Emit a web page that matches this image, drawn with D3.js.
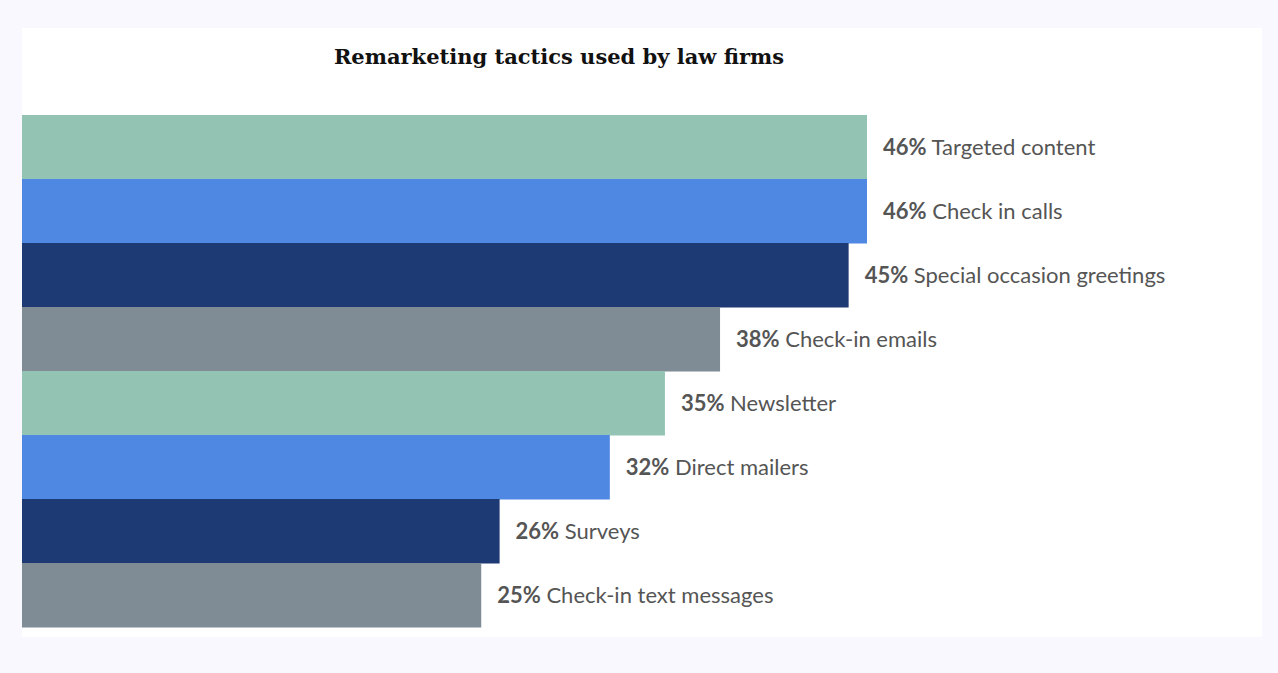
<!DOCTYPE html>
<html><head><meta charset="utf-8">
<script src="https://cdn.jsdelivr.net/npm/d3@7"></script>
<style>body{margin:0;background:#f8f8fe;}</style>
</head><body>
<svg id="c" width="1278" height="673"></svg>
<script>
const categories = ["Targeted content","Check in calls","Special occasion greetings","Check-in emails","Newsletter","Direct mailers","Surveys","Check-in text messages"];
const values = [46,46,45,38,35,32,26,25];
const colors = ["#93c4b3","#4f88e3","#1e3a75","#7f8c96"];
const svg = d3.select("#c");
svg.append("rect").attr("x",22).attr("y",28).attr("width",1240).attr("height",609).attr("fill","#fff");
svg.append("text").attr("x",559).attr("y",64).attr("text-anchor","middle")
  .attr("font-family","DejaVu Serif, Liberation Serif, serif").attr("font-weight","bold")
  .attr("font-size",21).attr("fill","#111").text("Remarketing tactics used by law firms");
const x = d3.scaleLinear().domain([0,46]).range([22,867]);
const y = d3.scaleBand().domain(categories).range([115,627]).padding(0);
svg.selectAll("rect.bar").data(categories).join("rect").attr("class","bar")
  .attr("x",x(0)).attr("y",d=>y(d)).attr("height",y.bandwidth()+0.5)
  .attr("width",(d,i)=>x(values[i])-x(0)).attr("fill",(d,i)=>colors[i%4]);
const t = svg.selectAll("text.lab").data(categories).join("text").attr("class","lab")
  .attr("x",(d,i)=>x(values[i])+16).attr("y",d=>y(d)+y.bandwidth()/2+8)
  .attr("font-family","Lato, Open Sans, sans-serif").attr("font-size",22).attr("fill","#555");
t.append("tspan").attr("font-weight","bold").text((d,i)=>values[i]+"%");
t.append("tspan").text(d=>" "+d);
</script>
</body></html>
